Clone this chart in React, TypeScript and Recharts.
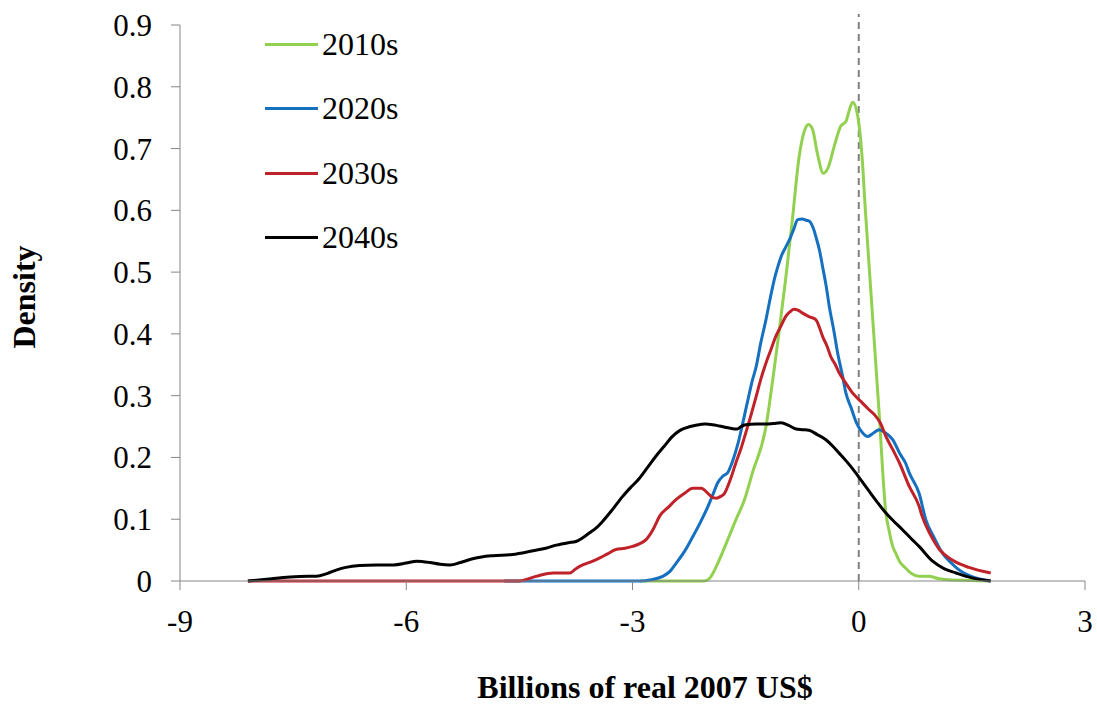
import { LineChart, Line, XAxis, YAxis, Legend, ReferenceLine, Label } from "recharts";

const FONT = "Liberation Serif";
const AXIS = "#868686";

const xTicks = [-9, -6, -3, 0, 3];
const yTicks = [0, 0.1, 0.2, 0.3, 0.4, 0.5, 0.6, 0.7, 0.8, 0.9];

// 2010s
const x2010 = [-2.9, -2.05, -1.98, -1.85, -1.72, -1.63, -1.52, -1.41, -1.23, -1.14, -1.06, -0.97, -0.88, -0.79, -0.73, -0.665, -0.61, -0.55, -0.47, -0.41, -0.32, -0.24, -0.17, -0.11, -0.08, -0.02, 0.04, 0.09, 0.18, 0.27, 0.36, 0.4, 0.45, 0.49, 0.55, 0.62, 0.7, 0.8, 0.93, 1.05, 1.2, 1.45, 1.73];
const y2010 = [0, 0, 0.004, 0.034, 0.072, 0.099, 0.13, 0.175, 0.25, 0.326, 0.4, 0.488, 0.585, 0.687, 0.725, 0.739, 0.73, 0.693, 0.66, 0.668, 0.706, 0.736, 0.744, 0.768, 0.775, 0.757, 0.693, 0.596, 0.434, 0.272, 0.11, 0.083, 0.056, 0.045, 0.03, 0.021, 0.012, 0.0075, 0.0075, 0.004, 0.002, 0.001, 0];

// 2020s
const x2020 = [-4.7, -2.9, -2.75, -2.6, -2.5, -2.42, -2.3, -2.2, -2.1, -2.02, -1.94, -1.87, -1.8, -1.74, -1.67, -1.6, -1.53, -1.47, -1.41, -1.36, -1.3, -1.23, -1.17, -1.12, -1.07, -1.03, -0.97, -0.92, -0.86, -0.81, -0.75, -0.7, -0.65, -0.6, -0.57, -0.52, -0.48, -0.43, -0.39, -0.33, -0.28, -0.22, -0.17, -0.1, -0.03, 0.05, 0.12, 0.2, 0.27, 0.35, 0.45, 0.55, 0.62, 0.67, 0.8, 0.89, 1.0, 1.11, 1.22, 1.33, 1.55, 1.75];
const y2020 = [0, 0, 0.002, 0.0075, 0.016, 0.029, 0.05, 0.072, 0.095, 0.115, 0.138, 0.159, 0.17, 0.175, 0.195, 0.223, 0.26, 0.293, 0.325, 0.347, 0.385, 0.423, 0.46, 0.488, 0.51, 0.525, 0.54, 0.552, 0.57, 0.585, 0.586, 0.584, 0.582, 0.57, 0.558, 0.535, 0.509, 0.476, 0.444, 0.405, 0.369, 0.335, 0.304, 0.28, 0.256, 0.24, 0.234, 0.24, 0.245, 0.24, 0.229, 0.205, 0.191, 0.175, 0.142, 0.099, 0.07, 0.045, 0.03, 0.018, 0.005, 0];

// 2030s
const x2030 = [-8.1, -4.5, -4.28, -4.05, -3.83, -3.75, -3.66, -3.55, -3.44, -3.33, -3.22, -3.1, -3.0, -2.91, -2.82, -2.72, -2.64, -2.52, -2.42, -2.3, -2.2, -2.09, -2.0, -1.95, -1.89, -1.83, -1.78, -1.7, -1.63, -1.56, -1.5, -1.43, -1.36, -1.3, -1.23, -1.16, -1.1, -1.03, -0.97, -0.91, -0.86, -0.8, -0.75, -0.66, -0.57, -0.52, -0.48, -0.42, -0.37, -0.31, -0.26, -0.17, -0.08, 0.05, 0.13, 0.21, 0.29, 0.36, 0.45, 0.54, 0.67, 0.8, 0.84, 0.95, 1.07, 1.24, 1.46, 1.75];
const y2030 = [0, 0, 0.0075, 0.013, 0.013, 0.02, 0.026, 0.031, 0.037, 0.044, 0.051, 0.053, 0.056, 0.06, 0.067, 0.085, 0.105, 0.12, 0.132, 0.143, 0.15, 0.15, 0.142, 0.136, 0.134, 0.137, 0.142, 0.165, 0.191, 0.215, 0.239, 0.268, 0.299, 0.326, 0.353, 0.376, 0.396, 0.413, 0.428, 0.436, 0.44, 0.438, 0.434, 0.428, 0.423, 0.41, 0.396, 0.38, 0.363, 0.35, 0.337, 0.32, 0.304, 0.288, 0.278, 0.269, 0.255, 0.234, 0.213, 0.191, 0.153, 0.121, 0.105, 0.075, 0.051, 0.034, 0.022, 0.013];

// 2040s
const x2040 = [-8.1, -7.85, -7.54, -7.3, -7.19, -7.05, -6.92, -6.8, -6.62, -6.4, -6.17, -6.0, -5.86, -5.69, -5.55, -5.42, -5.28, -5.12, -5.0, -4.85, -4.59, -4.32, -4.15, -4.01, -3.85, -3.75, -3.66, -3.57, -3.48, -3.4, -3.27, -3.13, -3.02, -2.91, -2.8, -2.69, -2.58, -2.47, -2.38, -2.29, -2.16, -2.03, -1.94, -1.85, -1.73, -1.61, -1.56, -1.5, -1.36, -1.23, -1.13, -1.03, -0.93, -0.83, -0.75, -0.66, -0.55, -0.44, -0.35, -0.26, -0.15, -0.04, 0.05, 0.14, 0.25, 0.36, 0.47, 0.58, 0.7, 0.8, 0.98, 1.13, 1.29, 1.5, 1.75];
const y2040 = [0, 0.003, 0.0065, 0.0075, 0.0075, 0.012, 0.018, 0.022, 0.025, 0.026, 0.026, 0.029, 0.032, 0.03, 0.027, 0.026, 0.03, 0.036, 0.039, 0.041, 0.043, 0.049, 0.053, 0.058, 0.062, 0.064, 0.07, 0.078, 0.086, 0.096, 0.115, 0.137, 0.152, 0.166, 0.184, 0.202, 0.218, 0.234, 0.243, 0.248, 0.252, 0.254, 0.253, 0.251, 0.248, 0.246, 0.25, 0.253, 0.254, 0.254, 0.255, 0.256, 0.252, 0.246, 0.245, 0.244, 0.237, 0.229, 0.219, 0.207, 0.192, 0.175, 0.16, 0.145, 0.127, 0.11, 0.096, 0.083, 0.068, 0.056, 0.032, 0.02, 0.013, 0.005, 0];

function toPoints(xs: number[], ys: number[]) {
  return xs.map((x, i) => ({ x, y: ys[i] }));
}

const series = [
  { name: "2010s", color: "#92D050", data: toPoints(x2010, y2010) },
  { name: "2020s", color: "#1570C0", data: toPoints(x2020, y2020) },
  { name: "2030s", color: "#C0222A", data: toPoints(x2030, y2030) },
  { name: "2040s", color: "#000000", data: toPoints(x2040, y2040) },
];

function LegendRows({ payload }: any) {
  return (
    <div style={{ fontFamily: FONT, fontSize: 32 }}>
      {(payload || []).map((p: any) => (
        <div key={p.value} style={{ display: "flex", alignItems: "center", height: 64.3 }}>
          <div style={{ width: 53, height: 3, background: p.color }} />
          <span style={{ marginLeft: 4, color: "#000" }}>{p.value}</span>
        </div>
      ))}
    </div>
  );
}

export default function App() {
  return (
    <div style={{ width: 1097, height: 707, background: "#fff" }}>
      <style>{`body{margin:0}`}</style>
      <LineChart width={1097} height={707} margin={{ top: 25, right: 12, bottom: 0, left: 0 }}>
        <XAxis
          dataKey="x"
          type="number"
          domain={[-9, 3]}
          ticks={xTicks}
          allowDataOverflow
          height={126}
          stroke={AXIS}
          tickSize={9}
          tickMargin={20}
          tick={{ fontSize: 31, fill: "#000", fontFamily: FONT }}
        >
          <Label
            content={() => (
              <text x={645} y={698} textAnchor="middle" fontFamily={FONT} fontSize={32} fontWeight="bold" fill="#000">
                Billions of real 2007 US$
              </text>
            )}
          />
        </XAxis>
        <YAxis
          type="number"
          domain={[0, 0.9]}
          ticks={yTicks}
          width={180}
          stroke={AXIS}
          tickSize={9}
          tickMargin={19}
          tickFormatter={(v: number) => (v === 0 ? "0" : v.toFixed(1))}
          tick={{ fontSize: 31, fill: "#000", fontFamily: FONT }}
        >
          <Label
            content={() => (
              <text x={24} y={297} transform="rotate(-90 24 297)" dy="0.35em" textAnchor="middle" fontFamily={FONT} fontSize={32} fontWeight="bold" fill="#000">
                Density
              </text>
            )}
          />
        </YAxis>
        <ReferenceLine
          segment={[{ x: 0, y: 0 }, { x: 0, y: 0.918 }]}
          ifOverflow="visible"
          stroke="#808080"
          strokeWidth={2}
          strokeDasharray="7 5"
        />
        {series.map((s) => (
          <Line
            key={s.name}
            data={s.data}
            dataKey="y"
            name={s.name}
            type="monotone"
            stroke={s.color}
            strokeWidth={3}
            dot={false}
            activeDot={false}
            isAnimationActive={false}
          />
        ))}
        <Legend
          layout="vertical"
          align="center"
          verticalAlign="middle"
          content={<LegendRows />}
          wrapperStyle={{ position: "absolute", left: 265, top: 12.5, width: "auto" }}
        />
      </LineChart>
    </div>
  );
}
